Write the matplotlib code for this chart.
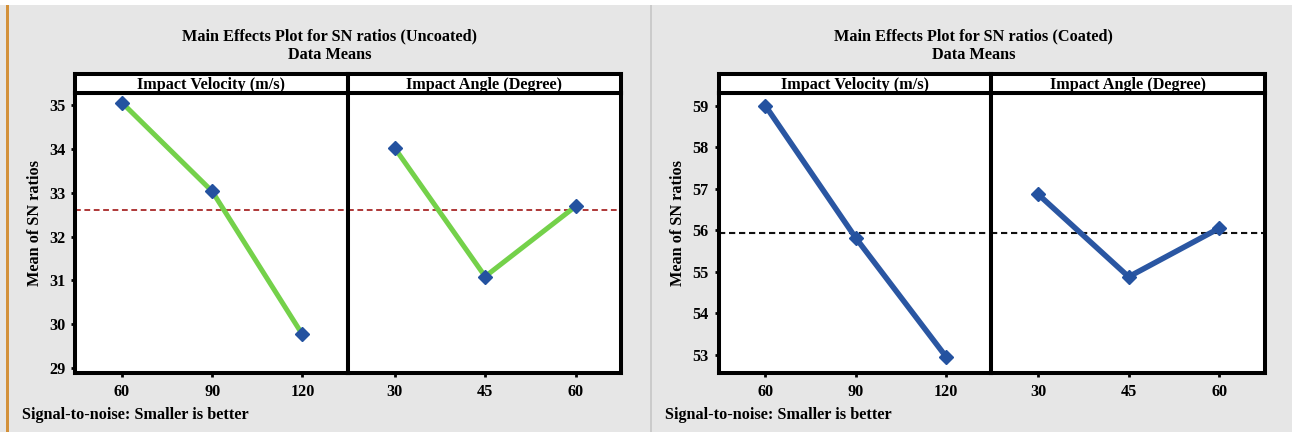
import matplotlib
matplotlib.use("Agg")
import matplotlib.pyplot as plt
import numpy as np
from matplotlib.patches import Rectangle

# ---- data ----
velocity_levels = ['60', '90', '120']
angle_levels = ['30', '45', '60']
uncoated_velocity = [35.05, 33.03, 29.77]
uncoated_angle = [34.02, 31.09, 32.69]
coated_velocity = [59.00, 55.82, 52.96]
coated_angle = [56.87, 54.88, 56.05]
factor_names = ['Impact Velocity (m/s)', 'Impact Angle (Degree)']
uncoated_ticks = [29, 30, 31, 32, 33, 34, 35]
coated_ticks = [53, 54, 55, 56, 57, 58, 59]

W, H = 1292, 432
fig = plt.figure(figsize=(W / 100, H / 100), dpi=100)
fig.patch.set_facecolor('white')

FONT = 'Liberation Serif'
plt.rcParams['font.family'] = [FONT, 'DejaVu Serif']
FS = 11.7


def rect(x0, y0, x1, y1):
    """pixel box (top-left origin) -> figure rect"""
    return [x0 / W, 1 - y1 / H, (x1 - x0) / W, (y1 - y0) / H]


def frect(x0, y0, x1, y1, color, z=0):
    r = Rectangle((x0 / W, 1 - y1 / H), (x1 - x0) / W, (y1 - y0) / H,
                  transform=fig.transFigure, facecolor=color, edgecolor='none', zorder=z)
    fig.add_artist(r)


# backgrounds
frect(0, 5, W, H, '#e6e6e6', z=-10)
frect(6, 5, 9, H, '#d3913a', z=-9)
frect(650, 5, 652, H, '#cbcbcb', z=-9)

LW = 2.9


def panel(x0, xmid, x1, left_vals, right_vals, ylim, yticks, line_color, line_lw,
          mean_color, mean_lw, dash, title, cx, ylab_x, note_x):
    top_h, top_p, bot = 74, 92.5, 372.7
    for i, (xa, xb, vals, levels) in enumerate(
            [(x0, xmid, left_vals, velocity_levels), (xmid, x1, right_vals, angle_levels)]):
        ax = fig.add_axes(rect(xa, top_p, xb, bot))
        ax.set_facecolor('white')
        xs = np.arange(len(levels))
        ax.plot(xs, vals, color=line_color, lw=line_lw, solid_capstyle='butt', zorder=3)
        ax.plot(xs, vals, linestyle='none', marker='D', markersize=7.5,
                color='#2452a0', zorder=4)
        ax.axhline(np.mean(list(left_vals) + list(right_vals)), color=mean_color,
                   lw=mean_lw, linestyle=(0, dash), zorder=2)
        ax.set_xlim(-0.52, 2.5)
        ax.set_ylim(*ylim)
        ax.set_xticks(xs)
        ax.set_xticklabels(levels, fontsize=FS, fontweight='bold', family=FONT)
        ax.tick_params(axis='x', length=3, width=2, pad=5, direction='out')
        for s in ax.spines.values():
            s.set_linewidth(LW)
        if i == 0:
            ax.set_yticks(yticks)
            ax.set_yticklabels([str(t) for t in yticks], fontsize=FS,
                               fontweight='bold', family=FONT)
            ax.tick_params(axis='y', length=3, width=2, pad=4, direction='out')
        else:
            ax.set_yticks([])
        # header strip
        hx = fig.add_axes(rect(xa, top_h, xb, top_p))
        hx.set_facecolor('white')
        hx.set_xticks([]); hx.set_yticks([])
        hx.set_xlim(0, 1); hx.set_ylim(0, 1)
        for s in hx.spines.values():
            s.set_linewidth(LW)
        t = hx.text(0.5, 0.2, factor_names[i], ha='center', va='baseline',
                    fontsize=FS, fontweight='bold', family=FONT)
        t.set_clip_on(True)
    fig.text(cx / W, 1 - 36 / H, title, ha='center', va='center',
             fontsize=FS, fontweight='bold', family=FONT)
    fig.text(cx / W, 1 - 55 / H, 'Data Means', ha='center', va='center',
             fontsize=FS, fontweight='bold', family=FONT)
    fig.text(ylab_x / W, 1 - 223 / H, 'Mean of SN ratios', rotation=90,
             ha='center', va='center', fontsize=FS, fontweight='bold', family=FONT)
    fig.text(note_x / W, 1 - 415 / H, 'Signal-to-noise: Smaller is better',
             ha='left', va='center', fontsize=FS, fontweight='bold', family=FONT)


panel(75, 347.5, 621, uncoated_velocity, uncoated_angle, (28.9, 35.28),
      uncoated_ticks, '#74d14a', 3.6, '#a82828', 1.3, (3.2, 2.0),
      'Main Effects Plot for SN ratios (Uncoated)', 330, 35, 22)
panel(718.5, 991, 1264.5, coated_velocity, coated_angle, (52.57, 59.32),
      coated_ticks, '#2a56a2', 4.0, '#111111', 1.5, (3.0, 1.8),
      'Main Effects Plot for SN ratios (Coated)', 973.5, 678.5, 665.5)

fig.savefig('out.png', dpi=100)
